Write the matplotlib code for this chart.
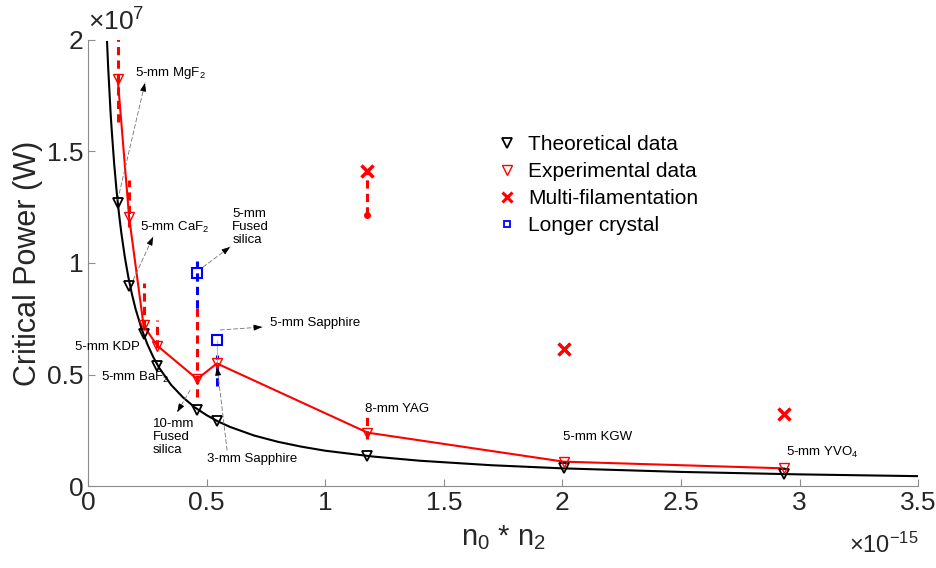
import matplotlib
matplotlib.use('Agg')
import matplotlib.pyplot as plt
from matplotlib.ticker import FormatStrFormatter
from matplotlib.lines import Line2D

plt.rcParams['font.family'] = ['Liberation Sans', 'DejaVu Sans']
plt.rcParams['mathtext.fontset'] = 'custom'
plt.rcParams['mathtext.rm'] = 'Liberation Sans'
plt.rcParams['mathtext.it'] = 'Liberation Sans:italic'

# n0*n2 in units of 1e-15, power in units of 1e7 W
materials_x = [0.125, 0.173, 0.234, 0.291, 0.46, 0.543, 1.178, 2.005, 2.935]
theory_y = [1.27, 0.897, 0.68, 0.54, 0.34, 0.29, 0.135, 0.08, 0.055]
exp_y = [1.825, 1.206, 0.72, 0.63, 0.48, 0.55, 0.24, 0.11, 0.08]

# theoretical curve
curve_x = [0.08, 0.085, 0.09, 0.095, 0.10, 0.11, 0.12, 0.13, 0.14, 0.155, 0.17,
           0.185, 0.20, 0.225, 0.25, 0.275, 0.30, 0.35, 0.40, 0.45, 0.50, 0.55,
           0.60, 0.70, 0.80, 0.90, 1.0, 1.2, 1.4, 1.7, 2.0, 2.5, 3.0, 3.5]
curve_y = [1.99, 1.87, 1.77, 1.67, 1.59, 1.445, 1.325, 1.223, 1.136, 1.026, 0.935,
           0.86, 0.795, 0.707, 0.636, 0.578, 0.53, 0.454, 0.398, 0.353, 0.318, 0.289,
           0.265, 0.227, 0.199, 0.177, 0.159, 0.133, 0.114, 0.094, 0.08, 0.064, 0.053, 0.045]

# experimental error ranges
err_x = [0.125, 0.173, 0.234, 0.291, 0.46, 1.178]
err_lo = [1.63, 1.16, 0.71, 0.62, 0.40, 0.21]
err_hi = [2.05, 1.37, 0.91, 0.745, 0.80, 0.32]

multi_x = [1.178, 2.005, 2.935]
multi_y = [1.41, 0.614, 0.323]
multi_err_lo = [1.215]

long_x = [0.46, 0.543]
long_y = [0.955, 0.655]
long_lo = [0.80, 0.45]
long_hi = [1.01, 0.59]

fig = plt.figure(figsize=(9.37, 5.68), dpi=100)
ax = fig.add_axes([0.094, 0.144, 0.886, 0.786])

dash = (0, (2.7, 1.7))
ax.vlines(err_x, err_lo, err_hi, colors='red', linestyles=[dash], lw=2.2, zorder=2)
ax.vlines(long_x, long_lo, long_hi, colors='blue', linestyles=[dash], lw=2.2, zorder=2)
ax.vlines(multi_x[:1], multi_err_lo, multi_y[:1], colors='red', linestyles=[dash], lw=2.2, zorder=2)
ax.plot(multi_x[:1], multi_err_lo, 'o', color='red', ms=4, zorder=3)
ax.vlines(long_x[1:], exp_y[5:6], long_y[1:], colors='#a9d18e', lw=0.8, zorder=2)

ax.plot(curve_x, curve_y, color='black', lw=1.5, zorder=3)
ax.plot(materials_x, exp_y, color='red', lw=1.5, zorder=3)
ax.plot(materials_x, theory_y, 'v', mfc='none', mec='black', ms=7, mew=1.3, zorder=4)
ax.plot(materials_x, exp_y, 'v', mfc='none', mec='red', ms=7, mew=1.0, zorder=4)
ax.plot(multi_x, multi_y, 'x', color='red', ms=8, mew=2.5, zorder=4)
ax.plot(long_x, long_y, 's', mfc='none', mec='blue', ms=7, mew=1.5, zorder=4)

ax.set_xlim(0, 3.5)
ax.set_ylim(0, 2)
ax.set_xticks([0, 0.5, 1, 1.5, 2, 2.5, 3, 3.5])
ax.set_yticks([0, 0.5, 1, 1.5, 2])
ax.xaxis.set_major_formatter(FormatStrFormatter('%g'))
ax.yaxis.set_major_formatter(FormatStrFormatter('%g'))
for s in ['top', 'right']:
    ax.spines[s].set_visible(False)
for s in ['left', 'bottom']:
    ax.spines[s].set_color('#8c8c8c')
    ax.spines[s].set_linewidth(0.8)
ax.tick_params(direction='in', length=5, color='#8c8c8c', labelcolor='#262626', labelsize=19)

ax.set_ylabel('Critical Power (W)', fontsize=22, color='#262626', labelpad=3)
ax.set_xlabel('n$_0$ * n$_2$', fontsize=21, color='#262626', labelpad=6)
ax.text(0.0, 1.01, r'$\times$10$^{7}$', transform=ax.transAxes, fontsize=19,
        color='#262626', ha='left', va='bottom')
ax.text(1.0, -0.105, r'$\times$10$^{-15}$', transform=ax.transAxes, fontsize=17,
        color='#262626', ha='right', va='top')

# annotations
fs = 9.5
ax.text(0.198, 1.852, '5-mm MgF$_2$', fontsize=fs, va='center')
ax.text(0.219, 1.161, '5-mm CaF$_2$', fontsize=fs, va='center')
ax.text(0.608, 1.161, '5-mm\nFused\nsilica', fontsize=fs, va='center', linespacing=1.1)
ax.text(0.768, 0.731, '5-mm Sapphire', fontsize=fs, va='center')
ax.text(0.502, 0.121, '3-mm Sapphire', fontsize=fs, va='center')
ax.text(0.274, 0.22, '10-mm\nFused\nsilica', fontsize=fs, va='center', linespacing=1.1)
ax.text(0.219, 0.623, '5-mm KDP', fontsize=fs, va='center', ha='right')
ax.text(0.055, 0.489, '5-mm BaF$_2$', fontsize=fs, va='center')
ax.text(1.169, 0.345, '8-mm YAG', fontsize=fs, va='center')
ax.text(2.004, 0.22, '5-mm KGW', fontsize=fs, va='center')
ax.text(2.941, 0.152, '5-mm YVO$_4$', fontsize=fs, va='center')

arrows = [((0.125, 1.283), (0.24, 1.807)),
          ((0.19, 0.924), (0.274, 1.117)),
          ((0.485, 0.982), (0.599, 1.072)),
          ((0.557, 0.70), (0.734, 0.713)),
          ((0.586, 0.161), (0.544, 0.534)),
          ((0.43, 0.43), (0.376, 0.332))]
for tail, head in arrows:
    ax.annotate('', xy=head, xytext=tail,
                arrowprops=dict(arrowstyle='-', color='0.45', lw=0.6,
                                linestyle=(0, (5, 3)), shrinkA=0, shrinkB=0))
    fx = tail[0] + 0.93 * (head[0] - tail[0])
    fy = tail[1] + 0.93 * (head[1] - tail[1])
    ax.annotate('', xy=head, xytext=(fx, fy),
                arrowprops=dict(arrowstyle='-|>,head_length=0.5,head_width=0.18',
                                color='black', lw=0.6, shrinkA=0, shrinkB=0))

handles = [Line2D([], [], ls='none', marker='v', mfc='none', mec='black', ms=7, mew=1.3),
           Line2D([], [], ls='none', marker='v', mfc='none', mec='red', ms=7, mew=1.0),
           Line2D([], [], ls='none', marker='x', color='red', ms=7, mew=2.2),
           Line2D([], [], ls='none', marker='s', mfc='none', mec='blue', ms=5, mew=1.3)]
labels = ['Theoretical data', 'Experimental data', 'Multi-filamentation', 'Longer crystal']
ax.legend(handles, labels, loc='upper left', bbox_to_anchor=(0.485, 0.805), frameon=False,
          fontsize=15, handlelength=0.8, handletextpad=0.6, labelspacing=0.38,
          borderaxespad=0)

fig.savefig('out.png', dpi=100)
